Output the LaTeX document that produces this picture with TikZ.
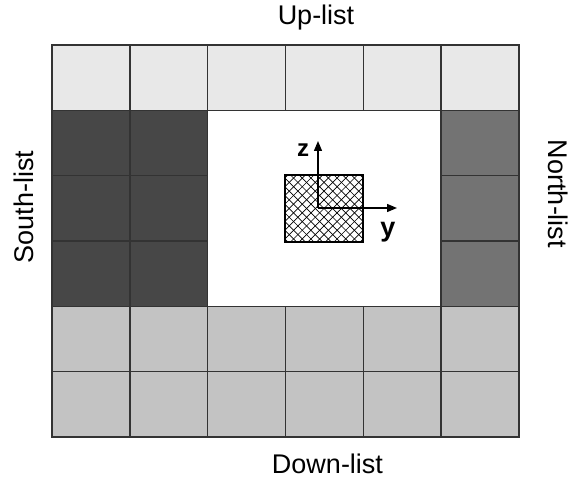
\documentclass[tikz,border=0pt]{standalone}
\usepackage{fontspec}
\setmainfont{Liberation Sans}
\usetikzlibrary{arrows.meta}
\definecolor{gridc}{HTML}{333333}
\definecolor{topc}{HTML}{E8E8E8}
\definecolor{southc}{HTML}{474747}
\definecolor{northc}{HTML}{737373}
\definecolor{downc}{HTML}{C3C3C3}
\begin{document}
\begin{tikzpicture}[x=1pt,y=-1pt,
  cell/.style={draw=gridc, line width=1.6pt},
  lbl/.style={font=\fontsize{27}{30}\selectfont, anchor=base, inner sep=0pt},
  axlbl/.style={font=\bfseries\fontsize{24}{26}\selectfont, anchor=base, inner sep=0pt},
  axis/.style={line width=1.3pt, -{Triangle[length=10pt,width=8pt]}},
  hatchbox/.style={draw=black, line width=1.3pt, minimum width=78pt, minimum height=67pt, inner sep=0pt,
    path picture={
      \foreach \i in {-12,...,12}{
        \draw[line width=0.7pt] ([shift={(\i*8.7pt-60pt,-60pt)}]path picture bounding box.center) -- ++(120pt,120pt);
        \draw[line width=0.7pt] ([shift={(\i*8.7pt-60pt,60pt)}]path picture bounding box.center) -- ++(120pt,-120pt);
      }
    }}]
\useasboundingbox (0,0) rectangle (571,481);
% top row
\foreach \c in {0,...,5}{
  \path[cell, fill=topc] ({52+\c*77.833},45) rectangle ++(77.833,65.333);
}
% middle rows
\foreach \r in {1,2,3}{
  \foreach \c in {0,1}{
    \path[cell, fill=southc] ({52+\c*77.833},{45+\r*65.333}) rectangle ++(77.833,65.333);
  }
  \path[cell, fill=northc] (441.17,{45+\r*65.333}) rectangle ++(77.833,65.333);
}
% bottom rows
\foreach \r in {4,5}{
  \foreach \c in {0,...,5}{
    \path[cell, fill=downc] ({52+\c*77.833},{45+\r*65.333}) rectangle ++(77.833,65.333);
  }
}
% centre
\path[cell, fill=white] (207.67,110.33) rectangle (441.17,306.33);
% hatched section
\node[hatchbox] (sec) at (324,208.5) {};
% axes
\coordinate (o) at (318,208);
\coordinate (zt) at (318,141);
\coordinate (yt) at (397,208);
\draw[axis] (o) -- (zt);
\draw[axis] (o) -- (yt);
\node[axlbl] (zl) at (303,157) {z};
\node[axlbl, font=\bfseries\fontsize{27}{29}\selectfont] (yl) at (388,237) {y};
% labels
\node[lbl] (up) at (316,25) {Up-list};
\node[lbl] (down) at (327.5,473) {Down-list};
\node[lbl, rotate=90] (south) at (33,207) {South-list};
\node[lbl, rotate=-90] (north) at (548,194) {North-list};
\end{tikzpicture}
\end{document}
